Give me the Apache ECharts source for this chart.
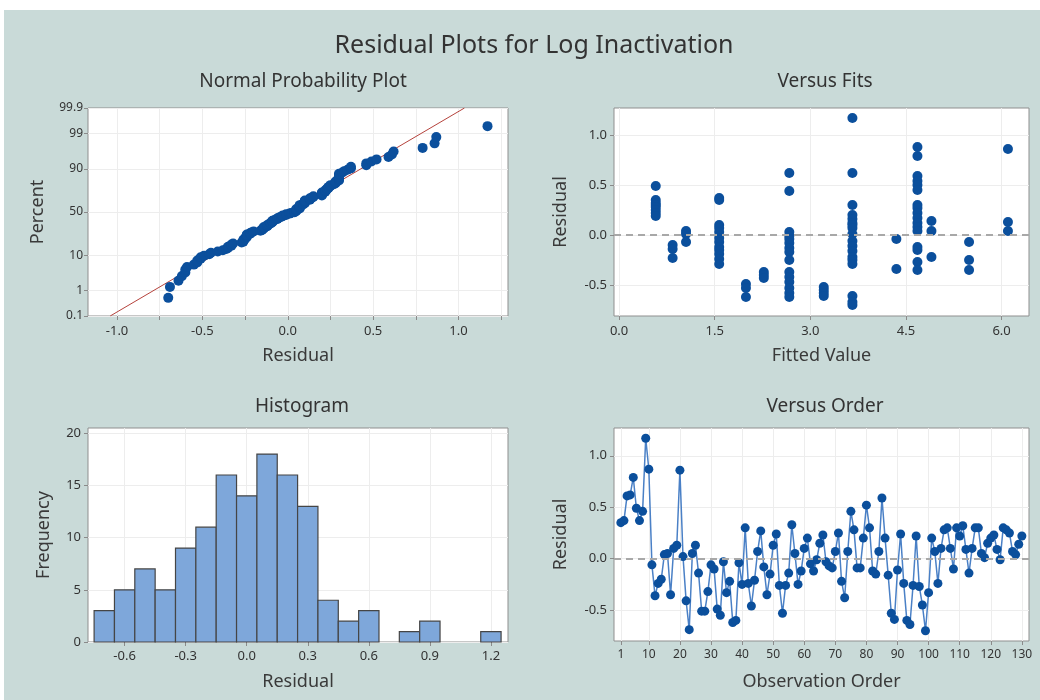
<!DOCTYPE html>
<html><head><meta charset="utf-8">
<script src="https://cdn.jsdelivr.net/npm/echarts@6/dist/echarts.min.js"></script>
<style>
html,body{margin:0;padding:0;background:#fff;}
#bg{position:absolute;left:4px;top:10px;width:1036px;height:690px;background:#c9dad8;}
#chart{position:absolute;left:0;top:0;width:1040px;height:700px;}
</style></head><body><div id="bg"></div><div id="chart"></div>
<script>
// ---- data ----
const residualsByOrder = [
  0.35, 0.37, 0.61, 0.62, 0.79, 0.49, 0.37, 0.46, 1.17, 0.87,
 -0.06,-0.36,-0.24,-0.20, 0.04, 0.05,-0.35, 0.10, 0.13, 0.86,
  0.02,-0.41,-0.69, 0.05, 0.13,-0.14,-0.51,-0.51,-0.32,-0.06,
 -0.10,-0.49,-0.55,-0.03,-0.33,-0.22,-0.62,-0.60,-0.04,-0.25,
  0.30,-0.24,-0.46,-0.21, 0.07, 0.27,-0.08,-0.35,-0.15, 0.13,
  0.24,-0.26,-0.53,-0.26,-0.14, 0.33, 0.05,-0.25,-0.12, 0.10,
  0.20,-0.05,-0.12,-0.01, 0.15, 0.23,-0.03,-0.07,-0.09, 0.07,
  0.25,-0.22,-0.38, 0.07, 0.46, 0.28,-0.09,-0.09, 0.20, 0.52,
  0.30,-0.12,-0.15, 0.07, 0.59, 0.20,-0.16,-0.53,-0.59,-0.11,
  0.24,-0.24,-0.60,-0.64,-0.26, 0.22,-0.27,-0.45,-0.70,-0.33,
  0.20, 0.07,-0.24, 0.10, 0.28, 0.30, 0.10,-0.10, 0.30, 0.22,
  0.32, 0.09,-0.14, 0.10, 0.30, 0.30, 0.05, 0.01, 0.15, 0.20,
  0.23, 0.09,-0.01, 0.30, 0.28, 0.25, 0.07, 0.04, 0.14, 0.22
];
const fitLevels = [0.575, 0.84, 1.05, 1.57, 1.99, 2.27, 2.67, 3.21, 3.66, 4.35, 4.68, 4.90, 5.49, 6.10];
const fitResiduals = [
  [0.49, 0.35, 0.32, 0.30, 0.28, 0.25, 0.22, 0.19],
  [-0.10, -0.14, -0.23],
  [0.04, 0.01, -0.07],
  [0.37, 0.35, 0.10, 0.07, 0.03, -0.03, -0.07, -0.12, -0.15, -0.19, -0.24, -0.29],
  [-0.49, -0.53, -0.62],
  [-0.37, -0.40, -0.43],
  [0.62, 0.44, 0.03, -0.01, -0.04, -0.08, -0.13, -0.17, -0.25, -0.37, -0.42, -0.47, -0.53, -0.58, -0.62],
  [-0.52, -0.55, -0.58, -0.61],
  [1.17, 0.62, 0.30, 0.20, 0.16, 0.12, 0.10, 0.07, 0.01, -0.06, -0.11, -0.16, -0.22, -0.25, -0.29, -0.61, -0.67, -0.70],
  [-0.04, -0.34],
  [0.88, 0.79, 0.59, 0.54, 0.50, 0.45, 0.30, 0.27, 0.22, 0.17, 0.12, 0.08, 0.04, -0.12, -0.15, -0.27, -0.35],
  [0.14, 0.04, -0.22],
  [-0.07, -0.25, -0.35],
  [0.86, 0.13, 0.04]
];
const histBinCenters = [-0.7,-0.6,-0.5,-0.4,-0.3,-0.2,-0.1,0.0,0.1,0.2,0.3,0.4,0.5,0.6,0.7,0.8,0.9,1.0,1.1,1.2];
const histCounts     = [3, 5, 7, 5, 9, 11, 16, 14, 18, 16, 13, 4, 2, 3, 0, 1, 2, 0, 0, 1];
const histBinWidth = 0.1;
const fitLineResidual = [-1.04, 1.035];   // fitted normal line endpoints (residual)
const fitLinePercent  = [0.1, 99.9];      // at these percents
const pctTicks = [0.1, 1, 10, 50, 90, 99, 99.9];
const normXLabels = [-1.0, -0.5, 0.0, 0.5, 1.0];
const normXGrid = [-1.0, -0.75, -0.5, -0.25, 0.0, 0.25, 0.5, 0.75, 1.0, 1.25];
const fitsXLabels = [0.0, 1.5, 3.0, 4.5, 6.0];
const residLabels = [-0.5, 0.0, 0.5, 1.0];
const histXLabels = [-0.6, -0.3, 0.0, 0.3, 0.6, 0.9, 1.2];
const histYLabels = [0, 5, 10, 15, 20];
const orderXLabels = [1, 10, 20, 30, 40, 50, 60, 70, 80, 90, 100, 110, 120, 130];

// ---- helpers ----
function invNorm(p){
  const a=[-3.969683028665376e+01,2.209460984245205e+02,-2.759285104469687e+02,1.383577518672690e+02,-3.066479806614716e+01,2.506628277459239e+00];
  const b=[-5.447609879822406e+01,1.615858368580409e+02,-1.556989798598866e+02,6.680131188771972e+01,-1.328068155288572e+01];
  const c=[-7.784894002430293e-03,-3.223964580411365e-01,-2.400758277161838e+00,-2.549732539343734e+00,4.374664141464968e+00,2.938163982698783e+00];
  const d=[7.784695709041462e-03,3.224671290700398e-01,2.445134137142996e+00,3.754408661907416e+00];
  const pl=0.02425, ph=1-pl; let q,r;
  if(p<pl){q=Math.sqrt(-2*Math.log(p));return (((((c[0]*q+c[1])*q+c[2])*q+c[3])*q+c[4])*q+c[5])/((((d[0]*q+d[1])*q+d[2])*q+d[3])*q+1);}
  if(p<=ph){q=p-0.5;r=q*q;return (((((a[0]*r+a[1])*r+a[2])*r+a[3])*r+a[4])*r+a[5])*q/(((((b[0]*r+b[1])*r+b[2])*r+b[3])*r+b[4])*r+1);}
  q=Math.sqrt(-2*Math.log(1-p));return -(((((c[0]*q+c[1])*q+c[2])*q+c[3])*q+c[4])*q+c[5])/((((d[0]*q+d[1])*q+d[2])*q+d[3])*q+1);
}
const pctZ = pctTicks.map(p => invNorm(p/100));
const zMin = pctZ[0], zMax = pctZ[pctZ.length-1];
function pctLabel(v){ let best=0; pctZ.forEach((z,i)=>{ if(Math.abs(z-v)<Math.abs(pctZ[best]-v)) best=i; }); return String(pctTicks[best]); }

// normal probability plot positions (median ranks)
const sorted = residualsByOrder.slice().sort((x,y)=>x-y);
const n = sorted.length;
const normalData = sorted.map((r,i)=>[r, invNorm((i+1-0.3)/(n+0.4))]);
const fitLineData = fitLineResidual.map((r,i)=>[r, invNorm(fitLinePercent[i]/100)]);
const fitsData = [];
fitLevels.forEach((f,i)=>fitResiduals[i].forEach(r=>fitsData.push([f,r])));
const orderData = residualsByOrder.map((r,i)=>[i+1,r]);
const histData = histBinCenters.map((c,i)=>[c, histCounts[i]]);

const FONT = '"Noto Sans", "Open Sans", sans-serif';
const TXT = '#333';
const BLUE = '#0b4f9c';
const TICK = {show:true, length:4, lineStyle:{color:'#8a8a8a'}};
function axisBase(extra){
  return Object.assign({
    type:'value',
    axisLine:{show:false, onZero:false},
    splitLine:{show:true, lineStyle:{color:'#ededed', width:1}},
    nameLocation:'middle',
    nameTextStyle:{color:'#3a3a3a', fontSize:18, fontFamily:FONT}
  }, extra);
}
function tick(vals){ return Object.assign({customValues:vals}, TICK); }
function lab(vals, fmt, size, margin){ return {color:TXT, fontSize:size, fontFamily:FONT, customValues:vals, formatter:fmt, margin:margin}; }
const fix1 = v => v.toFixed(1);
const gridStyle = {show:true, backgroundColor:'#fff', borderColor:'#8f8f8f', borderWidth:1};
const subTitle = {fontSize:19, fontWeight:'normal', color:'#333', fontFamily:FONT};

const chart = echarts.init(document.getElementById('chart'), null, {renderer:'canvas'});
chart.setOption({
  animation:false,
  textStyle:{fontFamily:FONT},
  title:[
    {text:'Residual Plots for Log Inactivation', left:529, top:28, textAlign:'center', textStyle:{fontSize:25, fontWeight:'normal', color:'#333', fontFamily:FONT}},
    {text:'Normal Probability Plot', left:298, top:67, textAlign:'center', textStyle:subTitle},
    {text:'Versus Fits', left:820, top:67, textAlign:'center', textStyle:subTitle},
    {text:'Histogram', left:297, top:392, textAlign:'center', textStyle:subTitle},
    {text:'Versus Order', left:820, top:392, textAlign:'center', textStyle:subTitle}
  ],
  grid:[
    Object.assign({left:88, top:108, width:420, height:208}, gridStyle),
    Object.assign({left:614, top:108, width:415, height:208}, gridStyle),
    Object.assign({left:88, top:428, width:420, height:214}, gridStyle),
    Object.assign({left:614, top:428, width:415, height:213}, gridStyle)
  ],
  xAxis:[
    axisBase({gridIndex:0, min:-1.17, max:1.29, name:'Residual', nameGap:31,
      axisTick:tick(normXGrid), axisLabel:lab(normXLabels, fix1, 13, 9)}),
    axisBase({gridIndex:1, min:-0.08, max:6.43, name:'Fitted Value', nameGap:31,
      axisTick:tick(fitsXLabels), axisLabel:lab(fitsXLabels, fix1, 13, 9)}),
    axisBase({gridIndex:2, min:-0.78, max:1.284, name:'Residual', nameGap:31,
      axisTick:tick(histXLabels), axisLabel:lab(histXLabels, fix1, 13, 8)}),
    axisBase({gridIndex:3, min:-1.2, max:132.3, name:'Observation Order', nameGap:32,
      axisTick:tick(orderXLabels), axisLabel:lab(orderXLabels, v=>String(v), 12, 8)})
  ],
  yAxis:[
    axisBase({gridIndex:0, min:zMin, max:zMax, name:'Percent', nameGap:41,
      axisTick:tick(pctZ), axisLabel:lab(pctZ, pctLabel, 12, 5)}),
    axisBase({gridIndex:1, min:-0.81, max:1.27, name:'Residual', nameGap:44,
      axisTick:tick(residLabels), axisLabel:lab(residLabels, fix1, 13, 7)}),
    axisBase({gridIndex:2, min:0, max:20.5, name:'Frequency', nameGap:35,
      axisTick:tick(histYLabels), axisLabel:lab(histYLabels, v=>String(v), 13, 7)}),
    axisBase({gridIndex:3, min:-0.80, max:1.27, name:'Residual', nameGap:44,
      axisTick:tick(residLabels), axisLabel:lab(residLabels, fix1, 13, 7)})
  ],
  series:[
    {type:'line', xAxisIndex:0, yAxisIndex:0, data:fitLineData, symbol:'none', z:2,
      lineStyle:{color:'#b5423c', width:1}},
    {type:'scatter', xAxisIndex:0, yAxisIndex:0, data:normalData, symbol:'circle', symbolSize:10, z:3,
      itemStyle:{color:BLUE, opacity:1}},
    {type:'line', xAxisIndex:1, yAxisIndex:1, data:[], z:1,
      markLine:{silent:true, symbol:'none', label:{show:false}, lineStyle:{color:'#a8a8a8', type:[7,5], width:2}, data:[{yAxis:0}]}},
    {type:'scatter', xAxisIndex:1, yAxisIndex:1, data:fitsData, symbol:'circle', symbolSize:10, z:3,
      itemStyle:{color:BLUE, opacity:1}},
    {type:'custom', xAxisIndex:2, yAxisIndex:2, data:histData, z:2,
      renderItem:function(params, api){
        const c = api.value(0), h = api.value(1);
        if (!h) return null;
        const p0 = api.coord([c - histBinWidth/2, 0]);
        const p1 = api.coord([c + histBinWidth/2, h]);
        return {type:'rect', shape:{x:p0[0], y:p1[1], width:p1[0]-p0[0], height:p0[1]-p1[1]},
          style:{fill:'#7ea7da', stroke:'#454545', lineWidth:1.2}};
      }},
    {type:'line', xAxisIndex:3, yAxisIndex:3, data:[], z:1,
      markLine:{silent:true, symbol:'none', label:{show:false}, lineStyle:{color:'#a8a8a8', type:[7,5], width:2}, data:[{yAxis:0}]}},
    {type:'line', xAxisIndex:3, yAxisIndex:3, data:orderData, symbol:'circle', symbolSize:9, z:3,
      lineStyle:{color:'#4a80c6', width:1.5}, itemStyle:{color:BLUE, opacity:1}}
  ]
});
</script></body></html>
